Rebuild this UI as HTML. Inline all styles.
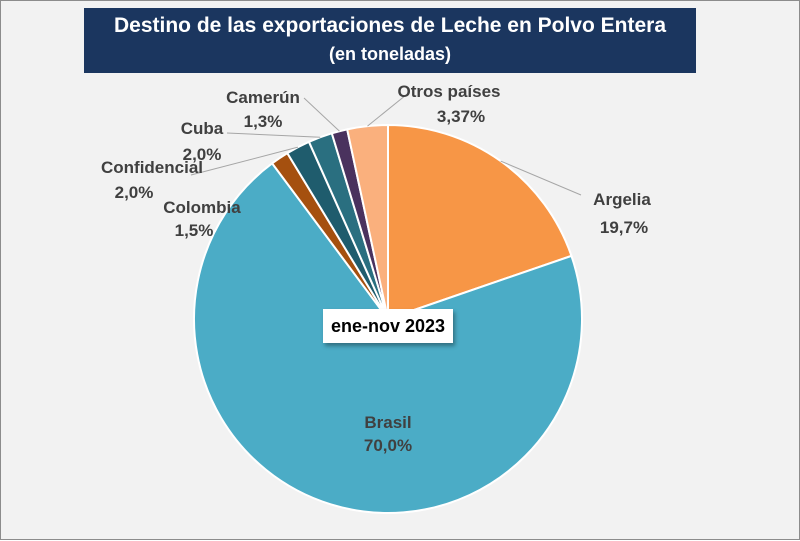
<!DOCTYPE html>
<html><head><meta charset="utf-8"><style>
body{margin:0;background:#fff}
#wrap{position:relative;width:800px;height:540px;background:#f2f2f2;box-sizing:border-box;border:1px solid #8c8c8c;font-family:"Liberation Sans",sans-serif}
#title{position:absolute;left:83px;top:7px;width:612px;height:65px;background:#1b365f;color:#fff;text-align:center;font-weight:bold;font-size:21px;line-height:28px;padding-top:4px;box-sizing:border-box}
#title .sub{font-size:18px}
#period{position:absolute;left:322px;top:308px;width:130px;height:34px;background:#fff;box-shadow:2px 3px 4px rgba(0,0,0,.35);font-weight:bold;font-size:18px;line-height:34px;text-align:center;color:#000}
svg{position:absolute;left:0;top:0}
</style></head><body>
<div id="wrap">
<div id="title">Destino de las exportaciones de Leche en Polvo Entera<br><span class="sub">(en toneladas)</span></div>
<svg id="chart" width="800" height="540"></svg>
<div id="period">ene-nov 2023</div>
</div>
<script>
const categories=["Argelia","Brasil","Colombia","Confidencial","Cuba","Camerún","Otros países"];
const values=[19.7,70.0,1.5,2.0,2.0,1.3,3.37];
const valueLabels=["19,7%","70,0%","1,5%","2,0%","2,0%","1,3%","3,37%"];
const colors=["#f79646","#4bacc6","#a5500f","#1f5c6d","#2a6f80","#4a325e","#fab07d"];
const labelPos=[[621,198,623,226,[580,194]],[387,421,387,444,null],[201,206,193,229,null],[151,166,133,191,[190,174]],[201,127,201,153,[226,132]],[262,96,262,120,[303,97]],[448,90,460,115,[405,94]]];
const cx=387,cy=318,r=194,NS="http://www.w3.org/2000/svg";
const svg=document.getElementById('chart');
const total=values.reduce((a,b)=>a+b,0);
function pt(a,rr){return [cx+rr*Math.sin(a),cy-rr*Math.cos(a)];}
let ang=0;
values.forEach((v,i)=>{
  const a0=ang,a1=ang+v/total*2*Math.PI;ang=a1;
  const p0=pt(a0,r),p1=pt(a1,r);
  const path=document.createElementNS(NS,'path');
  path.setAttribute('d',`M${cx},${cy}L${p0[0]},${p0[1]}A${r},${r} 0 ${a1-a0>Math.PI?1:0} 1 ${p1[0]},${p1[1]}Z`);
  path.setAttribute('fill',colors[i]);path.setAttribute('stroke','#fff');path.setAttribute('stroke-width','2');
  
  
  svg.appendChild(path);
  const lp=labelPos[i];
  if(lp[4]){
    const m=pt((a0+a1)/2,r);
    const ln=document.createElementNS(NS,'polyline');
    ln.setAttribute('points',`${m[0]},${m[1]} ${lp[4][0]},${lp[4][1]}`);
    ln.setAttribute('stroke','#a6a6a6');ln.setAttribute('fill','none');ln.setAttribute('stroke-width','1');
    
    
    svg.appendChild(ln);
  }
  [[lp[0],lp[1],categories[i]],[lp[2],lp[3],valueLabels[i]]].forEach(t=>{
    const tx=document.createElementNS(NS,'text');
    tx.setAttribute('x',t[0]);tx.setAttribute('y',t[1]+6);tx.setAttribute('text-anchor','middle');
    tx.setAttribute('font-family','Liberation Sans, sans-serif');tx.setAttribute('font-size','17');tx.setAttribute('font-weight','bold');tx.setAttribute('fill','#404040');
    tx.textContent=t[2];
    
    
    svg.appendChild(tx);
  });
});
</script>
</body></html>
